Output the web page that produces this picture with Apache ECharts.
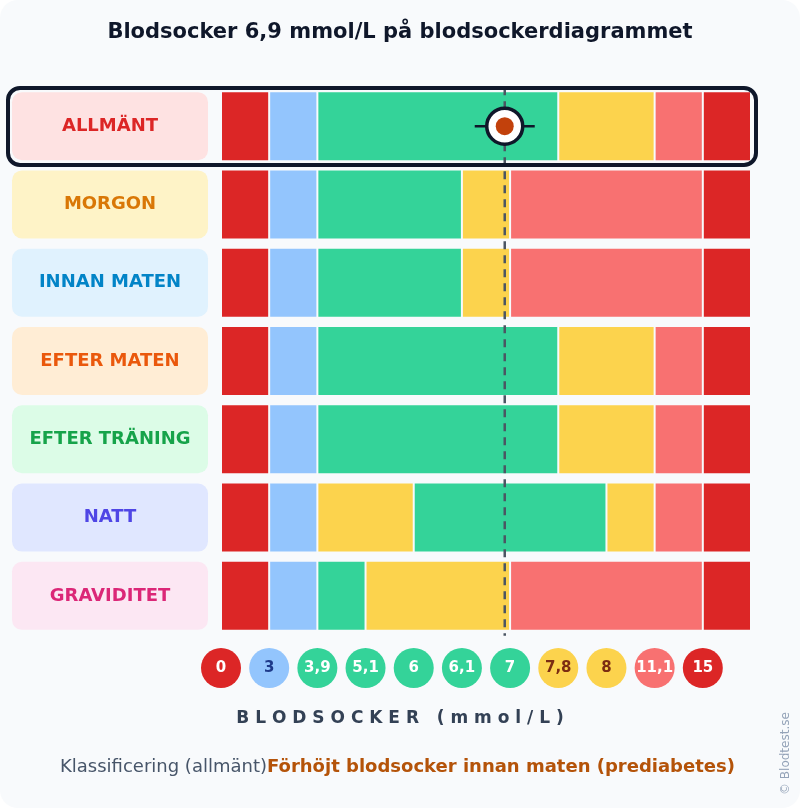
<!DOCTYPE html>
<html><head><meta charset="utf-8">
<script src="https://cdn.jsdelivr.net/npm/echarts@6/dist/echarts.min.js"></script>
<style>html,body{margin:0;padding:0;background:#fff}#c{width:800px;height:808px}</style>
</head><body><div id="c"></div>
<script>
const categories = ['ALLMÄNT','MORGON','INNAN MATEN','EFTER MATEN','EFTER TRÄNING','NATT','GRAVIDITET'];
const tickLabels = ['0','3','3,9','5,1','6','6,1','7','7,8','8','11,1','15'];
const tickValues = [0,3,3.9,5.1,6,6.1,7,7.8,8,11.1,15];
const zones = { low2:'#dc2626', low:'#93c5fd', ok:'#34d399', mid:'#fcd34d', high:'#f87171', high2:'#dc2626' };
const rowSegments = [
  [[0,1,'low2'],[1,2,'low'],[2,7,'ok'],[7,9,'mid'],[9,10,'high'],[10,11,'high2']],
  [[0,1,'low2'],[1,2,'low'],[2,5,'ok'],[5,6,'mid'],[6,10,'high'],[10,11,'high2']],
  [[0,1,'low2'],[1,2,'low'],[2,5,'ok'],[5,6,'mid'],[6,10,'high'],[10,11,'high2']],
  [[0,1,'low2'],[1,2,'low'],[2,7,'ok'],[7,9,'mid'],[9,10,'high'],[10,11,'high2']],
  [[0,1,'low2'],[1,2,'low'],[2,7,'ok'],[7,9,'mid'],[9,10,'high'],[10,11,'high2']],
  [[0,1,'low2'],[1,2,'low'],[2,4,'mid'],[4,8,'ok'],[8,9,'mid'],[9,10,'high'],[10,11,'high2']],
  [[0,1,'low2'],[1,2,'low'],[2,3,'ok'],[3,6,'mid'],[6,10,'high'],[10,11,'high2']]
];
const labelBg = ['#fee2e2','#fef3c7','#e0f2fe','#ffedd5','#dcfce7','#e0e7ff','#fce7f3'];
const labelFg = ['#dc2626','#d97706','#0284c7','#ea580c','#16a34a','#4f46e5','#db2777'];
const tickBg = ['#dc2626','#93c5fd','#34d399','#34d399','#34d399','#34d399','#34d399','#fcd34d','#fcd34d','#f87171','#dc2626'];
const tickFg = ['#fff','#1e3a8a','#fff','#fff','#fff','#fff','#fff','#7c2d12','#7c2d12','#fff','#fff'];
const measured = 6.9;

function toSlot(v){
  for(let i=0;i<tickValues.length-1;i++){
    if(v>=tickValues[i]&&v<=tickValues[i+1]) return i+(v-tickValues[i])/(tickValues[i+1]-tickValues[i]);
  }
  return 10;
}
const mSlot = toSlot(measured);

const segData=[], segColor=[];
rowSegments.forEach((segs,r)=>segs.forEach(s=>{segData.push([s[0],r,s[1]]);segColor.push(zones[s[2]]);}));

const richY={}; categories.forEach((c,i)=>richY['r'+i]={backgroundColor:labelBg[i],color:labelFg[i],width:196,height:68,borderRadius:10,align:'center',fontSize:18,fontWeight:'bold',fontFamily:'DejaVu Sans'});
const richX={}; tickLabels.forEach((t,i)=>richX['t'+i]={backgroundColor:tickBg[i],color:tickFg[i],width:40,height:40,borderRadius:20,align:'center',fontSize:15,fontWeight:'bold',fontFamily:'DejaVu Sans'});

const chart=echarts.init(document.getElementById('c'));
chart.setOption({
  backgroundColor:'#ffffff',
  animation:false,
  graphic:[
    {type:'rect',z:-10,shape:{x:0,y:0,width:800,height:808,r:18},style:{fill:'#f8fafc'}},
    {type:'text',left:'center',top:22,style:{text:'Blodsocker 6,9 mmol/L på blodsockerdiagrammet',fontSize:21,fontWeight:'bold',fill:'#0f172a',fontFamily:'DejaVu Sans'}},
    {type:'rect',z:100,shape:{x:8,y:88,width:748,height:77,r:12},style:{fill:'none',stroke:'#0f172a',lineWidth:4}},
    {type:'text',left:'center',top:710,style:{text:'B L O D S O C K E R   ( m m o l / L )',fontSize:17,fontWeight:'bold',fill:'#334155',fontFamily:'DejaVu Sans'}},
    {type:'text',x:60,y:758,style:{rich:{a:{fontSize:18,fill:'#475569',fontFamily:'DejaVu Sans'},b:{fontSize:18,fontWeight:'bold',fill:'#b45309',fontFamily:'DejaVu Sans'}},text:'{a|Klassificering (allmänt)}{b|Förhöjt blodsocker innan maten (prediabetes)}'}},
    {type:'text',x:780,y:795,rotation:Math.PI/2,style:{text:'© Blodtest.se',fontSize:12,fill:'#94a3b8',fontFamily:'DejaVu Sans'}}
  ],
  grid:{left:221,right:49,top:87,height:548},
  xAxis:{type:'value',min:0,max:11,interval:1,splitLine:{show:false},axisLine:{show:false},axisTick:{show:false},
    axisLabel:{showMaxLabel:false,margin:13,formatter:v=>v<11?'{t'+v+'|'+tickLabels[v]+'}':'',rich:richX}},
  yAxis:{type:'category',data:categories,inverse:true,axisLine:{show:false},axisTick:{show:false},
    axisLabel:{margin:13,formatter:(v,i)=>'{r'+i+'|'+v+'}',rich:richY}},
  series:[
    {type:'custom',data:segData,
      renderItem:(p,api)=>{
        const a=api.coord([api.value(0),api.value(1)]),b=api.coord([api.value(2),api.value(1)]);
        return {type:'rect',shape:{x:a[0]+1,y:a[1]-34,width:b[0]-a[0]-2,height:68},style:{fill:segColor[p.dataIndex]}};
      }
    },
    {type:'custom',data:[[mSlot,0]],z:50,
      renderItem:(p,api)=>{
        const c=api.coord([api.value(0),api.value(1)]);
        const e=api.coord([api.value(0),6]);
        return {type:'group',children:[
          {type:'line',shape:{x1:c[0],y1:c[1]-39,x2:c[0],y2:e[1]+40},style:{stroke:'#4b5563',lineWidth:2.5,lineDash:[8,6]}},
          {type:'line',shape:{x1:c[0]-30,y1:c[1],x2:c[0]+30,y2:c[1]},style:{stroke:'#0f172a',lineWidth:2.5}},
          {type:'circle',shape:{cx:c[0],cy:c[1],r:18},style:{fill:'#fff',stroke:'#0f172a',lineWidth:3.5}},
          {type:'circle',shape:{cx:c[0],cy:c[1],r:9},style:{fill:'#c2410c'}}
        ]};
      }}
  ]
});
</script></body></html>
